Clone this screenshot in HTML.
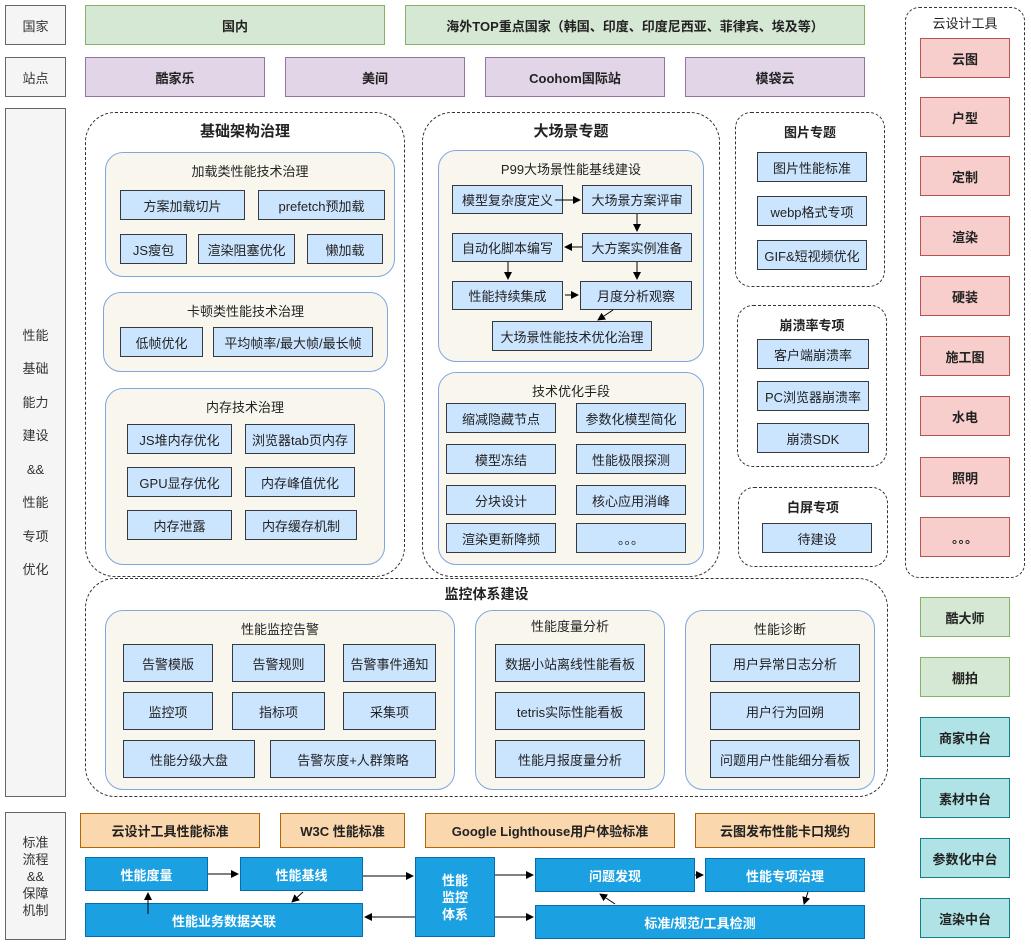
<!DOCTYPE html>
<html><head><meta charset="utf-8"><style>
body{margin:0;width:1031px;height:946px;background:#fff;position:relative;overflow:hidden;font-family:"Liberation Sans","Noto Sans CJK SC",sans-serif;font-size:13px;color:#222}
div{position:absolute;box-sizing:border-box;display:flex;align-items:center;justify-content:center;text-align:center}
.g{background:#f5f5f5;border:1px solid #666;color:#333}
.gr{background:#d5e8d4;border:1px solid #82b366;font-weight:bold}
.pu{background:#e1d5e7;border:1px solid #9673a6;font-weight:bold}
.rd{background:#f8cecc;border:1px solid #b85450;font-weight:bold}
.tl{background:#b0e3e6;border:1px solid #0e8088;font-weight:bold}
.or{background:#fad7ac;border:1px solid #b46504;font-weight:bold}
.bl{background:#1ba1e2;border:1px solid #006eaf;color:#fff;font-weight:bold}
.b{background:#cce5ff;border:1px solid #36393d}
.d{border:1px dashed #333;border-radius:30px;align-items:flex-start;font-weight:bold;font-size:15px;padding-top:7px}
.c{background:#f9f7ed;border:1px solid #7ea6e0;border-radius:18px;align-items:flex-start;padding-top:8px}
.d2{border:1px dashed #333;border-radius:16px;align-items:flex-start;font-weight:bold;padding-top:9px}
</style></head><body>
<div class="g" style="left:5px;top:5px;width:61px;height:40px">国家</div>
<div class="gr" style="left:85px;top:5px;width:300px;height:40px">国内</div>
<div class="gr" style="left:405px;top:5px;width:460px;height:40px">海外TOP重点国家（韩国、印度、印度尼西亚、菲律宾、埃及等）</div>
<div class="g" style="left:5px;top:57px;width:61px;height:40px">站点</div>
<div class="pu" style="left:85px;top:57px;width:180px;height:40px">酷家乐</div>
<div class="pu" style="left:285px;top:57px;width:180px;height:40px">美间</div>
<div class="pu" style="left:485px;top:57px;width:180px;height:40px">Coohom国际站</div>
<div class="pu" style="left:685px;top:57px;width:180px;height:40px">模袋云</div>
<div class="g" style="left:5px;top:108px;width:61px;height:689px;line-height:33.5px">性能<br>基础<br>能力<br>建设<br>&amp;&amp;<br>性能<br>专项<br>优化</div>
<div class="g" style="left:5px;top:812px;width:61px;height:128px;line-height:17px">标准<br>流程<br>&amp;&amp;<br>保障<br>机制</div>

<div class="d" style="left:905px;top:7px;width:120px;height:571px;border-radius:14px;font-size:13px;font-weight:normal;padding-top:5px">云设计工具</div>
<div class="rd" style="left:920px;top:38px;width:90px;height:40px">云图</div>
<div class="rd" style="left:920px;top:97px;width:90px;height:40px">户型</div>
<div class="rd" style="left:920px;top:156px;width:90px;height:40px">定制</div>
<div class="rd" style="left:920px;top:216px;width:90px;height:40px">渲染</div>
<div class="rd" style="left:920px;top:276px;width:90px;height:40px">硬装</div>
<div class="rd" style="left:920px;top:336px;width:90px;height:40px">施工图</div>
<div class="rd" style="left:920px;top:396px;width:90px;height:40px">水电</div>
<div class="rd" style="left:920px;top:457px;width:90px;height:40px">照明</div>
<div class="rd" style="left:920px;top:517px;width:90px;height:40px">。。。</div>
<div class="gr" style="left:920px;top:597px;width:90px;height:40px">酷大师</div>
<div class="gr" style="left:920px;top:657px;width:90px;height:40px">棚拍</div>
<div class="tl" style="left:920px;top:717px;width:90px;height:40px">商家中台</div>
<div class="tl" style="left:920px;top:778px;width:90px;height:40px">素材中台</div>
<div class="tl" style="left:920px;top:838px;width:90px;height:40px">参数化中台</div>
<div class="tl" style="left:920px;top:898px;width:90px;height:40px">渲染中台</div>

<div class="d" style="left:85px;top:112px;width:320px;height:465px">基础架构治理</div>
<div class="c" style="left:105px;top:152px;width:290px;height:125px">加载类性能技术治理</div>
<div class="b" style="left:120px;top:190px;width:125px;height:30px">方案加载切片</div>
<div class="b" style="left:258px;top:190px;width:127px;height:30px">prefetch预加载</div>
<div class="b" style="left:120px;top:234px;width:67px;height:30px">JS瘦包</div>
<div class="b" style="left:198px;top:234px;width:97px;height:30px">渲染阻塞优化</div>
<div class="b" style="left:307px;top:234px;width:76px;height:30px">懒加载</div>
<div class="c" style="left:103px;top:292px;width:285px;height:80px">卡顿类性能技术治理</div>
<div class="b" style="left:120px;top:327px;width:83px;height:30px">低帧优化</div>
<div class="b" style="left:213px;top:327px;width:160px;height:30px">平均帧率/最大帧/最长帧</div>
<div class="c" style="left:105px;top:388px;width:280px;height:177px">内存技术治理</div>
<div class="b" style="left:127px;top:424px;width:105px;height:30px">JS堆内存优化</div>
<div class="b" style="left:245px;top:424px;width:110px;height:30px">浏览器tab页内存</div>
<div class="b" style="left:127px;top:467px;width:105px;height:30px">GPU显存优化</div>
<div class="b" style="left:245px;top:467px;width:110px;height:30px">内存峰值优化</div>
<div class="b" style="left:127px;top:510px;width:105px;height:30px">内存泄露</div>
<div class="b" style="left:245px;top:510px;width:112px;height:30px">内存缓存机制</div>

<div class="d" style="left:422px;top:112px;width:298px;height:465px">大场景专题</div>
<div class="c" style="left:438px;top:150px;width:266px;height:212px">P99大场景性能基线建设</div>
<div class="b" style="left:452px;top:185px;width:111px;height:29px">模型复杂度定义</div>
<div class="b" style="left:582px;top:185px;width:110px;height:29px">大场景方案评审</div>
<div class="b" style="left:452px;top:233px;width:111px;height:29px">自动化脚本编写</div>
<div class="b" style="left:582px;top:233px;width:110px;height:29px">大方案实例准备</div>
<div class="b" style="left:452px;top:281px;width:111px;height:29px">性能持续集成</div>
<div class="b" style="left:580px;top:281px;width:112px;height:29px">月度分析观察</div>
<div class="b" style="left:492px;top:321px;width:160px;height:30px">大场景性能技术优化治理</div>
<div class="c" style="left:438px;top:372px;width:266px;height:193px">技术优化手段</div>
<div class="b" style="left:446px;top:403px;width:110px;height:30px">缩减隐藏节点</div>
<div class="b" style="left:576px;top:403px;width:110px;height:30px">参数化模型简化</div>
<div class="b" style="left:446px;top:444px;width:110px;height:30px">模型冻结</div>
<div class="b" style="left:576px;top:444px;width:110px;height:30px">性能极限探测</div>
<div class="b" style="left:446px;top:485px;width:110px;height:30px">分块设计</div>
<div class="b" style="left:576px;top:485px;width:110px;height:30px">核心应用消峰</div>
<div class="b" style="left:446px;top:523px;width:110px;height:30px">渲染更新降频</div>
<div class="b" style="left:576px;top:523px;width:110px;height:30px">。。。</div>

<div class="d2" style="left:735px;top:112px;width:150px;height:175px">图片专题</div>
<div class="b" style="left:757px;top:152px;width:110px;height:30px">图片性能标准</div>
<div class="b" style="left:757px;top:196px;width:110px;height:30px">webp格式专项</div>
<div class="b" style="left:757px;top:240px;width:110px;height:30px">GIF&amp;短视频优化</div>
<div class="d2" style="left:737px;top:305px;width:150px;height:162px">崩溃率专项</div>
<div class="b" style="left:757px;top:339px;width:112px;height:30px">客户端崩溃率</div>
<div class="b" style="left:757px;top:381px;width:112px;height:30px">PC浏览器崩溃率</div>
<div class="b" style="left:757px;top:423px;width:112px;height:30px">崩溃SDK</div>
<div class="d2" style="left:738px;top:487px;width:150px;height:80px">白屏专项</div>
<div class="b" style="left:762px;top:523px;width:110px;height:30px">待建设</div>

<div class="d" style="left:85px;top:578px;width:803px;height:219px;font-size:14px;padding-top:5px">监控体系建设</div>
<div class="c" style="left:105px;top:610px;width:350px;height:180px">性能监控告警</div>
<div class="b" style="left:123px;top:644px;width:90px;height:38px">告警模版</div>
<div class="b" style="left:232px;top:644px;width:93px;height:38px">告警规则</div>
<div class="b" style="left:343px;top:644px;width:93px;height:38px">告警事件通知</div>
<div class="b" style="left:123px;top:692px;width:90px;height:38px">监控项</div>
<div class="b" style="left:232px;top:692px;width:93px;height:38px">指标项</div>
<div class="b" style="left:343px;top:692px;width:93px;height:38px">采集项</div>
<div class="b" style="left:123px;top:740px;width:132px;height:38px">性能分级大盘</div>
<div class="b" style="left:270px;top:740px;width:166px;height:38px">告警灰度+人群策略</div>
<div class="c" style="left:475px;top:610px;width:190px;height:180px;padding-top:5px">性能度量分析</div>
<div class="b" style="left:495px;top:644px;width:150px;height:38px">数据小站离线性能看板</div>
<div class="b" style="left:495px;top:692px;width:150px;height:38px">tetris实际性能看板</div>
<div class="b" style="left:495px;top:740px;width:150px;height:38px">性能月报度量分析</div>
<div class="c" style="left:685px;top:610px;width:190px;height:180px">性能诊断</div>
<div class="b" style="left:710px;top:644px;width:150px;height:38px">用户异常日志分析</div>
<div class="b" style="left:710px;top:692px;width:150px;height:38px">用户行为回朔</div>
<div class="b" style="left:710px;top:740px;width:150px;height:38px">问题用户性能细分看板</div>

<div class="or" style="left:80px;top:813px;width:180px;height:35px">云设计工具性能标准</div>
<div class="or" style="left:280px;top:813px;width:125px;height:35px">W3C 性能标准</div>
<div class="or" style="left:425px;top:813px;width:250px;height:35px">Google Lighthouse用户体验标准</div>
<div class="or" style="left:695px;top:813px;width:180px;height:35px">云图发布性能卡口规约</div>
<div class="bl" style="left:85px;top:857px;width:123px;height:34px">性能度量</div>
<div class="bl" style="left:240px;top:857px;width:123px;height:34px">性能基线</div>
<div class="bl" style="left:85px;top:903px;width:278px;height:34px">性能业务数据关联</div>
<div class="bl" style="left:415px;top:857px;width:80px;height:80px;line-height:17px">性能<br>监控<br>体系</div>
<div class="bl" style="left:535px;top:858px;width:160px;height:34px">问题发现</div>
<div class="bl" style="left:705px;top:858px;width:160px;height:34px">性能专项治理</div>
<div class="bl" style="left:535px;top:905px;width:330px;height:34px">标准/规范/工具检测</div>

<svg width="1031" height="946" style="position:absolute;left:0;top:0" >
<defs><marker id="a" markerWidth="8" markerHeight="8" refX="7" refY="4" orient="auto" markerUnits="userSpaceOnUse"><path d="M0,0L8,4L0,8z" fill="#000"/></marker></defs>
<g stroke="#000" stroke-width="1" fill="none" marker-end="url(#a)">
<line x1="555" y1="200" x2="580" y2="200"/>
<line x1="637" y1="214" x2="637" y2="231"/>
<line x1="582" y1="247" x2="565" y2="247"/>
<line x1="508" y1="262" x2="508" y2="279"/>
<line x1="637" y1="262" x2="637" y2="279"/>
<line x1="565" y1="295" x2="578" y2="295"/>
<line x1="613" y1="310" x2="598" y2="320"/>
<line x1="208" y1="874" x2="238" y2="874"/>
<line x1="363" y1="876" x2="413" y2="876"/>
<line x1="495" y1="875" x2="533" y2="875"/>
<line x1="695" y1="875" x2="703" y2="875"/>
<line x1="415" y1="917" x2="365" y2="917"/>
<line x1="495" y1="917" x2="533" y2="917"/>
<line x1="303" y1="892" x2="292" y2="902"/>
<line x1="148" y1="914" x2="148" y2="893"/>
<line x1="808" y1="892" x2="804" y2="904"/>
<line x1="615" y1="904" x2="600" y2="894"/>
</g></svg>
</body></html>
